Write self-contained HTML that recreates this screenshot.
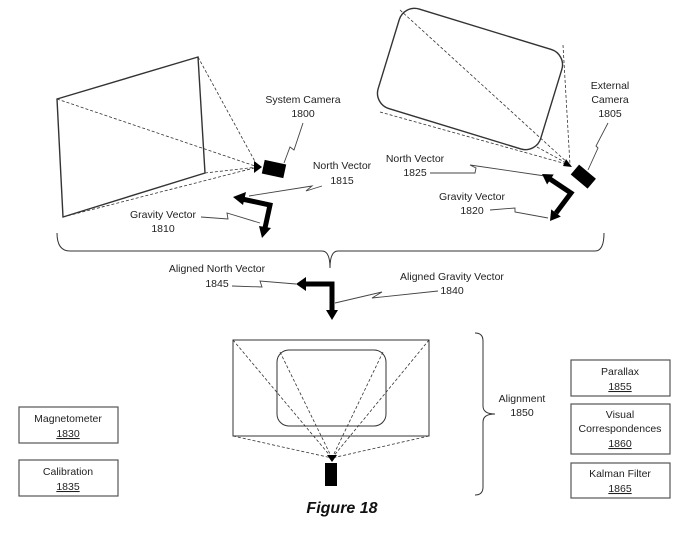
<!DOCTYPE html>
<html><head><style>
html,body{margin:0;padding:0;background:#fff;}
svg{display:block}
text{font-family:"Liberation Sans",sans-serif;font-size:10.5px;fill:#222;text-anchor:middle}
</style></head><body>
<svg width="700" height="542" viewBox="0 0 700 542" xmlns="http://www.w3.org/2000/svg">
<g fill="none" stroke="#333">
<path d="M57,99 L198,57 L205,173 L63,217 Z" stroke-width="1.4"/>
<g stroke-dasharray="3,2" stroke-width="0.8">
<line x1="57" y1="99" x2="258" y2="167"/><line x1="198" y1="57" x2="258" y2="167"/>
<line x1="205" y1="173" x2="258" y2="167"/><line x1="63" y1="217" x2="258" y2="167"/>
</g>
<g transform="translate(470,79) rotate(17)">
<rect x="-85" y="-52" width="170" height="104" rx="16" stroke-width="1.4"/>
</g>
<g stroke-dasharray="3,2" stroke-width="0.8">
<line x1="400" y1="10" x2="570" y2="165"/><line x1="563" y1="45" x2="570" y2="165"/>
<line x1="380" y1="112" x2="570" y2="165"/><line x1="537" y1="147" x2="570" y2="165"/>
</g>
<path d="M57,233 Q57,251 70,251 L322,251 Q330,251 330,268 Q330,251 338,251 L595,251 Q604,251 604,233" stroke-width="1"/>
<rect x="233" y="340" width="196" height="96" stroke-width="1"/>
<rect x="277" y="350" width="109" height="76" rx="12" stroke-width="1"/>
<g stroke-dasharray="3,2" stroke-width="0.8">
<line x1="233" y1="340" x2="332" y2="458"/><line x1="429" y1="340" x2="332" y2="458"/>
<line x1="233" y1="436" x2="332" y2="458"/><line x1="429" y1="436" x2="332" y2="458"/>
<line x1="280" y1="352" x2="332" y2="458"/><line x1="383" y1="352" x2="332" y2="458"/>
</g>
<path d="M475,333 Q483,333 483,341 L483,406 Q483,414 495,414 Q483,414 483,422 L483,487 Q483,495 475,495" stroke-width="1"/>
<g stroke-width="1.2" stroke="#555">
<rect x="19" y="407" width="99" height="36"/><rect x="19" y="460" width="99" height="36"/>
<rect x="571" y="360" width="99" height="36"/><rect x="571" y="404" width="99" height="50"/>
<rect x="571" y="463" width="99" height="35"/>
</g>
<g stroke-width="0.9" stroke="#444">
<path d="M284,163 L290,147 L294,150 L303,123"/>
<path d="M322,186 L306,191 L312,186 L249,196"/>
<path d="M201,217 L228,219 L227,213 L260,223"/>
<path d="M588,170 L598,148 L596,146 L608,123"/>
<path d="M430,173 L475,173 L476,168 L470,165 L545,176"/>
<path d="M490,210 L515,208 L515,212 L548,218"/>
<path d="M232,286 L262,287 L260,281 L296,284"/>
<path d="M438,291 L372,298 L382,292 L335,303"/>
</g>
</g>
<path d="M254,161 L262,167 L254,173z" fill="#000"/>
<path d="M566,159 L572,167 L563,166z" fill="#000"/>
<path d="M327,455 L337,455 L332,462z" fill="#000"/>
<rect x="263" y="162" width="22" height="14" fill="#000" transform="rotate(12 274 169)"/>
<rect x="572" y="170" width="22" height="13" fill="#000" transform="rotate(40 583 177)"/>
<rect x="325" y="463" width="12" height="23" fill="#000"/>
<g stroke="#000" stroke-width="5" fill="none" stroke-linejoin="miter">
<polyline points="242,199 270,205 265,228"/>
<polyline points="550,179 571,193 556,213"/>
<polyline points="305,284 332,284 332,311"/>
</g>
<path d="M233,197 L246,192 L243,205z" fill="#000"/>
<path d="M262,238 L259,226 L271,228z" fill="#000"/>
<path d="M542,174 L553.7,174.5 L547.1,184.5z" fill="#000"/>
<path d="M550,221 L551.2,209.4 L560.8,216.6z" fill="#000"/>
<path d="M296,284 L306,277 L306,291z" fill="#000"/>
<path d="M332,320 L326,310 L338,310z" fill="#000"/>
<text x="303" y="103">System Camera</text><text x="303" y="117">1800</text>
<text x="342" y="169">North Vector</text><text x="342" y="184">1815</text>
<text x="163" y="218">Gravity Vector</text><text x="163" y="232">1810</text>
<text x="610" y="89">External</text><text x="610" y="103">Camera</text><text x="610" y="117">1805</text>
<text x="415" y="162">North Vector</text><text x="415" y="176">1825</text>
<text x="472" y="200">Gravity Vector</text><text x="472" y="214">1820</text>
<text x="217" y="272">Aligned North Vector</text><text x="217" y="287">1845</text>
<text x="452" y="280">Aligned Gravity Vector</text><text x="452" y="294">1840</text>
<text x="522" y="402">Alignment</text><text x="522" y="416">1850</text>
<text x="68" y="422">Magnetometer</text><text x="68" y="437" text-decoration="underline">1830</text>
<text x="68" y="475">Calibration</text><text x="68" y="490" text-decoration="underline">1835</text>
<text x="620" y="375">Parallax</text><text x="620" y="390" text-decoration="underline">1855</text>
<text x="620" y="418">Visual</text><text x="620" y="432">Correspondences</text><text x="620" y="447" text-decoration="underline">1860</text>
<text x="620" y="477">Kalman Filter</text><text x="620" y="492" text-decoration="underline">1865</text>
<text x="342" y="513" style="font-size:16px;font-weight:bold;font-style:italic;fill:#111">Figure 18</text>
</svg>
</body></html>
